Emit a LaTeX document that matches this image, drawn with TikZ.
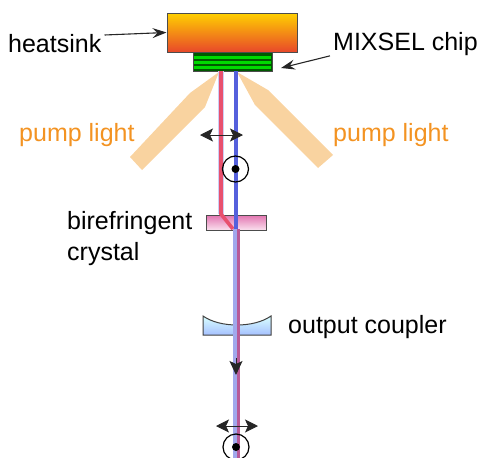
\documentclass[tikz,border=0pt]{standalone}
\usepackage{fontspec}
\setmainfont{Liberation Sans}
\usetikzlibrary{arrows.meta}
\definecolor{pumporange}{HTML}{F39322}
\definecolor{pumpbeam}{HTML}{F9D3A0}
\definecolor{redbeam}{HTML}{E8506E}
\definecolor{bluebeam}{HTML}{5560DC}
\definecolor{mixbeam}{HTML}{B85A98}
\tikzset{
	label/.style={font=\fontsize{25}{31}\selectfont, inner sep=0pt, align=left},
	pump/.style={label, text=pumporange},
	pointer/.style={draw=black!85, line width=1.1pt, -{Stealth[length=14pt, width=10pt, inset=5pt]}},
	pol/.style={black!85, line width=1pt, {Stealth[length=13pt, width=13pt, inset=3pt]}-{Stealth[length=13pt, width=13pt, inset=3pt]}},
	optic/.style={draw=black!70, line width=1pt, inner sep=0pt},
	spinmark/.style={draw=black, circle, line width=1.2pt, minimum size=26pt, inner sep=0pt}
}
\begin{document}
\begin{tikzpicture}[x=1pt, y=-1pt]
	\useasboundingbox (0, 0) rectangle (477, 458);
	% pump light
	\fill [pumpbeam] (219, 72) -- (190, 93) -- (130, 157) -- (142, 170) -- (205, 107) -- cycle;
	\fill [pumpbeam] (237, 72) -- (268, 90) -- (333, 155) -- (318, 168) -- (255, 105) -- cycle;
	% heatsink and chip
	\node (sink) [optic, minimum width=130pt, minimum height=39pt, top color={rgb,255:red,255;green,208;blue,0}, bottom color={rgb,255:red,232;green,72;blue,42}] at (232, 32.5) {};
	\node (chip) [optic, minimum width=79pt, minimum height=19pt, fill=green!35!black] at (232.5, 61.5) {};
	\foreach \y in {57, 62.5, 67.5}
		\draw [green!85!black, line width=3pt] (194, \y) -- (271, \y);
	% crystal and coupler
	\node (crystal) [optic, minimum width=60pt, minimum height=15pt, top color={rgb,255:red,226;green,116;blue,176}, bottom color={rgb,255:red,250;green,224;blue,238}] at (236, 222.5) {};
	\shade [top color=cyan!15!white, bottom color=cyan!30!blue!35!white] (203, 316) .. controls (220, 328) and (254, 328) .. (271, 316) -- (271, 335) -- (203, 335) -- cycle;
	\draw [black!75, line width=1pt] (203, 316) .. controls (220, 328) and (254, 328) .. (271, 316) -- (271, 335) -- (203, 335) -- cycle;
	% beams
	\coordinate (redtop) at (221, 71);
	\coordinate (redbend) at (221, 214);
	\coordinate (redmerge) at (233, 229);
	\coordinate (bluetop) at (236, 71);
	\coordinate (bluemid) at (236, 229);
	\draw [bluebeam!30, line width=6pt] (redtop) -- (redbend);
	\draw [redbeam, line width=3.6pt] (redtop) -- (redbend) -- (redmerge);
	\draw [bluebeam, line width=4.4pt] (bluetop) -- (bluemid);
	\draw [bluebeam!55!white, line width=3.6pt] (235, 229) -- (235, 458);
	\draw [mixbeam, line width=3pt] (238, 229) -- (238, 458);
	% polarisation marks
	\coordinate (polaleft) at (200, 135);
	\coordinate (polaright) at (243, 135);
	\draw [pol] (polaleft) -- (polaright);
	\node (spin) [spinmark] at (235.5, 169) {};
	\fill (spin) circle (4);
	\coordinate (polbleft) at (216, 426);
	\coordinate (polbright) at (258, 426);
	\draw [pol] (polbleft) -- (polbright);
	\node (spinb) [spinmark] at (236, 447) {};
	\fill (spinb) circle (4);
	\coordinate (beamstart) at (236, 358);
	\coordinate (beamend) at (236, 375);
	\draw [black!85, line width=1pt, -{Stealth[length=14pt, width=13pt, inset=3pt]}] (beamstart) -- (beamend);
	% labels
	\node (heatsink) [label, anchor=west] at (8, 44) {heatsink};
	\node (mixsel) [label, anchor=west] at (333, 44) {MIXSEL chip};
	\node (pumpleft) [pump, anchor=west] at (19, 135) {pump light};
	\node (pumpright) [pump, anchor=west] at (333, 135) {pump light};
	\node (birefringent) [label, anchor=west] at (67, 239) {birefringent\\crystal};
	\node (coupler) [label, anchor=west] at (288, 327) {output coupler};
	\draw [pointer] (heatsink.east) ++(3, -9) coordinate (sinkfrom) -- (sink.west);
	\coordinate (chipto) at (281, 68);
	\draw [pointer] (mixsel.south west) ++(-3, 0) coordinate (mixfrom) -- (chipto);
\end{tikzpicture}
\end{document}
